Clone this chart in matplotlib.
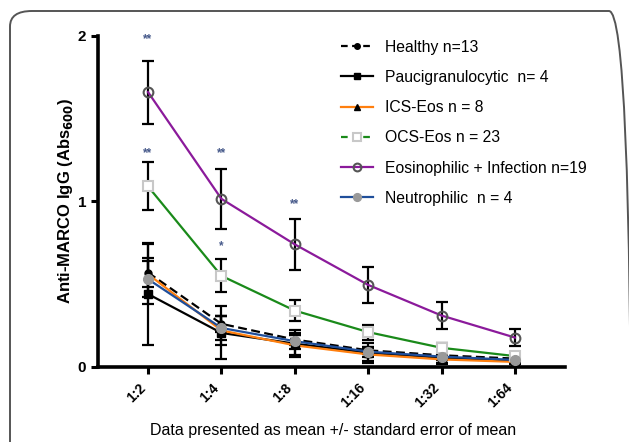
import matplotlib
matplotlib.use("Agg")
import matplotlib.pyplot as plt
from matplotlib.patches import FancyBboxPatch
from matplotlib.lines import Line2D

plt.rcParams["font.family"] = ["Liberation Sans", "DejaVu Sans"]

# dilutions and series (mean, sem)
dilutions = ["1:2", "1:4", "1:8", "1:16", "1:32", "1:64"]

healthy = [0.57, 0.26, 0.165, 0.10, 0.07, 0.05]
healthy_sem = [0.09, 0.05, 0.03, 0.02, 0.015, 0.01]
pauci = [0.44, 0.205, 0.14, 0.085, 0.055, 0.035]
pauci_sem = [0.31, 0.16, 0.08, 0.06, 0.04, 0.02]
ics_eos = [0.56, 0.22, 0.13, 0.075, 0.045, 0.03]
ics_eos_sem = [0.18, 0.09, 0.06, 0.04, 0.02, 0.015]
ocs_eos = [1.09, 0.55, 0.34, 0.21, 0.115, 0.065]
ocs_eos_sem = [0.145, 0.10, 0.065, 0.045, 0.03, 0.02]
eos_inf = [1.66, 1.015, 0.74, 0.495, 0.31, 0.177]
eos_inf_sem = [0.19, 0.18, 0.155, 0.11, 0.08, 0.05]
neutro = [0.53, 0.235, 0.155, 0.092, 0.062, 0.042]
neutro_sem = [0.11, 0.07, 0.05, 0.03, 0.02, 0.015]

# significance marks: (dilution index, y, text)
stars_x = [0, 0, 1, 1, 2]
stars_y = [1.98, 1.29, 1.29, 0.73, 0.985]
stars_txt = ["**", "**", "**", "*", "**"]

# (label, means, sems, plot linestyle, legend linestyle, colour, marker, face, edge, size, edge width)
series = [
    ("Healthy n=13", healthy, healthy_sem, (0, (4, 2)), (0, (3, 2)),
     "black", "o", "black", "black", 5, 1.0),
    ("Paucigranulocytic  n= 4", pauci, pauci_sem, "-", "-",
     "black", "s", "black", "black", 6, 1.0),
    ("ICS-Eos n = 8", ics_eos, ics_eos_sem, "-", "-",
     "#ff7f0e", "^", "black", "black", 5, 1.0),
    ("OCS-Eos n = 23", ocs_eos, ocs_eos_sem, "-", (0, (3, 2)),
     "#1a8a1a", "s", "white", "#c8c8c8", 7, 1.5),
    ("Eosinophilic + Infection n=19", eos_inf, eos_inf_sem, "-", "-",
     "#8b1a9b", "o", "none", "#555555", 7, 1.5),
    ("Neutrophilic  n = 4", neutro, neutro_sem, "-", "-",
     "#1f4e9a", "o", "#999999", "#999999", 7, 1.0),
]

fig = plt.figure(figsize=(6.29, 4.42), dpi=100)
ax = fig.add_axes([0.156, 0.170, 0.742, 0.749])

x = list(range(len(dilutions)))
handles = []
for label, vals, err, ls, leg_ls, col, mk, mfc, mec, ms, mew in series:
    ax.errorbar(x, vals, yerr=err, fmt="none", ecolor="black",
                elinewidth=1.6, capsize=4, capthick=1.6, zorder=2)
    ax.plot(x, vals, color=col, ls=ls, lw=1.6, zorder=3)
    ax.plot(x, vals, ls="none", marker=mk, mfc=mfc, mec=mec, ms=ms,
            mew=mew, zorder=4)
    handles.append(Line2D([], [], color=col, ls=leg_ls, lw=1.6, marker=mk,
                          mfc=mfc, mec=mec, ms=ms * 0.8, mew=mew))

for xi, yi, t in zip(stars_x, stars_y, stars_txt):
    ax.text(xi, yi, t, ha="center", va="center", fontsize=8.5,
            color="#46598a", fontweight="bold")

ax.set_xlim(-0.68, 5.68)
ax.set_ylim(0, 2)
ax.set_yticks([0, 1, 2])
ax.set_yticklabels(["0", "1", "2"], fontweight="bold", fontsize=11)
ax.set_xticks(x)
ax.set_xticklabels(dilutions, rotation=45, ha="right", va="top",
                   fontweight="bold", fontsize=10)
ax.tick_params(axis="both", width=2.2, length=5, direction="out")
ax.tick_params(axis="x", pad=5)
for s in ["top", "right"]:
    ax.spines[s].set_visible(False)
for s in ["left", "bottom"]:
    ax.spines[s].set_linewidth(2.6)

ax.set_ylabel("Anti-MARCO IgG (Abs$_{\\mathbf{600}}$)", fontweight="bold",
              fontsize=12, labelpad=2)
fig.text(0.53, 0.025, "Data presented as mean +/- standard error of mean",
         ha="center", va="center", fontsize=11.5)

leg = fig.legend(handles, [s[0] for s in series], loc="upper left",
                 bbox_to_anchor=(0.52, 0.942), frameon=False, fontsize=11.3,
                 handlelength=2.0, handletextpad=0.8, labelspacing=0.97)

box = FancyBboxPatch((10 / 629, -0.2), 621 / 629, 1 - 11 / 442 + 0.2,
                     boxstyle="round,pad=0,rounding_size=0.035",
                     transform=fig.transFigure, fill=False,
                     edgecolor="#555555", lw=1.4, zorder=0)
fig.patches.append(box)

fig.savefig("out.png", dpi=100)
